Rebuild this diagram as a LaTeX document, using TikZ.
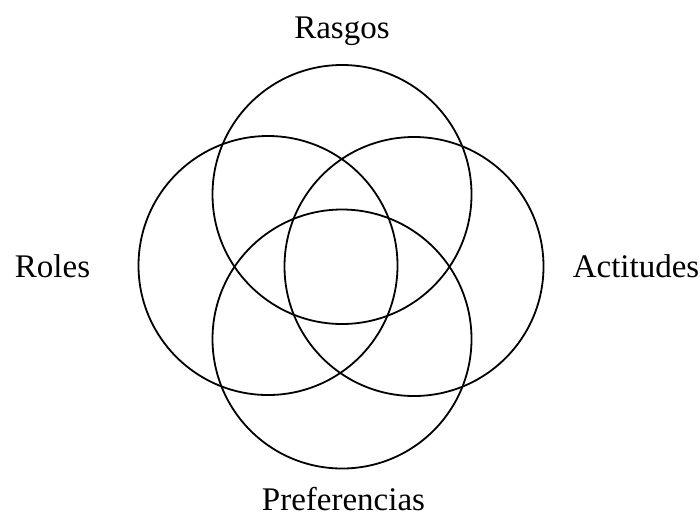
\documentclass[tikz,border=0pt]{standalone}
\usepackage{fontspec}
\setmainfont{Liberation Serif}
\begin{document}
\begin{tikzpicture}[x=1pt,y=-1pt,
  ring/.style={circle,draw=black,line width=1.8pt,minimum size=259pt,inner sep=0pt},
  lbl/.style={font=\fontsize{33}{36}\selectfont,anchor=base,inner sep=0pt,text depth=0pt}]
\useasboundingbox (0,0) rectangle (700,515);
\node[ring] (top) at (342,194.5) {};
\node[ring] (left) at (268,265.5) {};
\node[ring] (right) at (414,266.5) {};
\node[ring] (bottom) at (342,339) {};
\node[lbl] (rasgos) at (342,38.5) {Rasgos};
\node[lbl] (roles) at (52.5,277) {Roles};
\node[lbl] (actitudes) at (636,277) {Actitudes};
\node[lbl] (pref) at (343.5,510.5) {Preferencias};
\end{tikzpicture}
\end{document}
